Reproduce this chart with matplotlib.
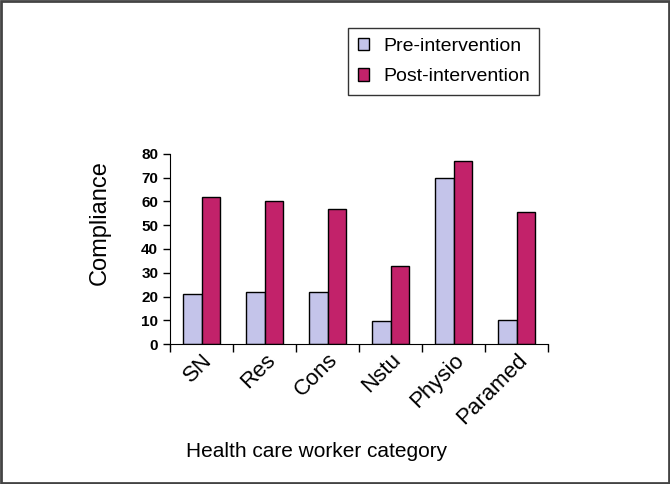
import numpy as np
from matplotlib import pyplot as plt
from matplotlib.patches import Rectangle

categories = ['SN', 'Res', 'Cons', 'Nstu', 'Physio', 'Paramed']
pre = [21, 22, 22, 9.5, 70, 10]
post = [62, 60, 57, 33, 77, 55.5]

plt.rcParams['font.family'] = ['Liberation Sans', 'DejaVu Sans']

fig = plt.figure(figsize=(6.7, 4.84), dpi=100)
ax = fig.add_axes([170 / 670, 1 - 344 / 484, 378 / 670, 190 / 484])

x = np.arange(len(categories))
w = 0.3
ax.bar(x - w / 2, pre, w, color='#c4c4ea', edgecolor='black', linewidth=1,
       label='Pre-intervention')
ax.bar(x + w / 2, post, w, color='#c2226a', edgecolor='black', linewidth=1,
       label='Post-intervention')

ax.set_xlim(-0.5, len(categories) - 0.5)
ax.set_ylim(0, 80)
ax.set_yticks(range(0, 81, 10))
ax.tick_params(axis='y', labelsize=11, length=5, width=1)
for t in ax.get_yticklabels():
    t.set_fontweight('bold')

ax.set_xticks(x)
ax.set_xticklabels(categories, rotation=45, ha='right', rotation_mode='anchor',
                   fontsize=16)
ax.tick_params(axis='x', length=0, pad=4)
ax.set_xticks(np.arange(-0.5, len(categories)), minor=True)
ax.tick_params(axis='x', which='minor', length=6, width=1)

for s in ['top', 'right']:
    ax.spines[s].set_visible(False)

ax.set_ylabel('Compliance', fontsize=17)
ax.yaxis.set_label_coords(-0.185, 0.637)
ax.yaxis.label.set_va('center')
ax.set_xlabel('Health care worker category', fontsize=15)
ax.xaxis.set_label_coords(0.389, -0.568)
ax.xaxis.label.set_va('center')

ax.legend(loc='upper left', bbox_to_anchor=(348 / 670, 1 - 28 / 484),
          bbox_transform=fig.transFigure, fontsize=14, frameon=True,
          fancybox=False, edgecolor='black', handlelength=0.6, handleheight=0.6,
          handletextpad=0.7, borderpad=0.5, labelspacing=0.7, borderaxespad=0)
ax.get_legend().get_frame().set_linewidth(1)

fig.patches.append(Rectangle((0.002, 0.002), 0.996, 0.996, transform=fig.transFigure,
                             fill=False, edgecolor='#444444', linewidth=2))

fig.savefig('out.png', dpi=100)
